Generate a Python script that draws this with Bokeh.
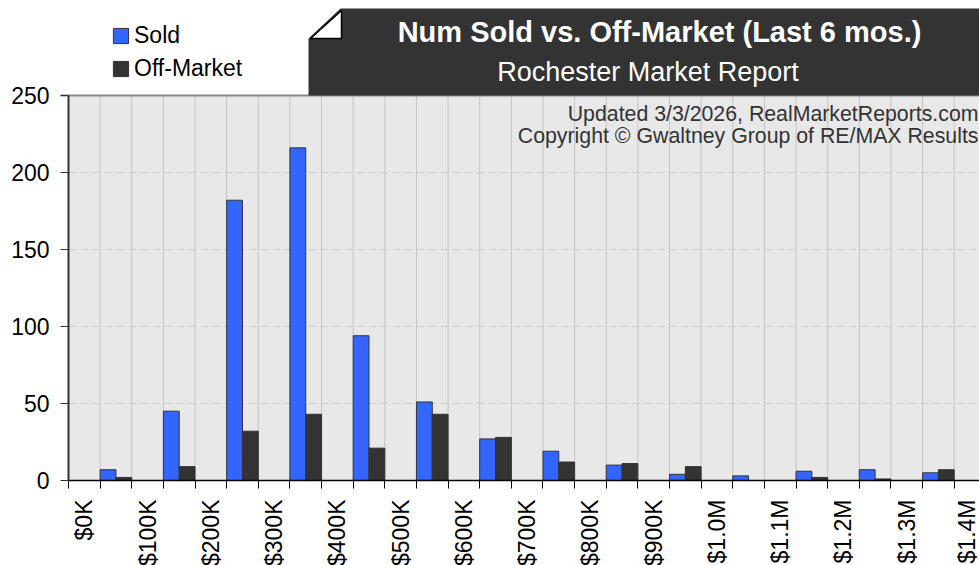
from math import pi
from bokeh.plotting import figure
from bokeh.core.properties import value
from bokeh.models import (Range1d, FixedTicker, CustomJSTickFormatter, Legend, LegendItem,
                          Label, ColumnDataSource)
from bokeh.embed import file_html
from bokeh.resources import INLINE

# ---- data ----
bin_labels = ["$0K", "", "$100K", "", "$200K", "", "$300K", "", "$400K", "", "$500K", "",
              "$600K", "", "$700K", "", "$800K", "", "$900K", "", "$1.0M", "", "$1.1M", "",
              "$1.2M", "", "$1.3M", "", "$1.4M"]
sold = [0, 7, 0, 45, 0, 182, 0, 216, 0, 94, 0, 51, 0, 27, 0, 19, 0, 10, 0, 4, 0, 3, 0, 6, 0, 7, 0, 5, 0]
off_market = [0, 2, 0, 9, 0, 32, 0, 43, 0, 21, 0, 43, 0, 28, 0, 12, 0, 11, 0, 9, 0, 0, 0, 2, 0, 1, 0, 7, 0]
y_ticks = [0, 50, 100, 150, 200, 250]
series_names = ["Sold", "Off-Market"]
title_text = "Num Sold vs. Off-Market (Last 6 mos.)"
subtitle_text = "Rochester Market Report"
note_lines = ["Updated 3/3/2026, RealMarketReports.com",
              "Copyright \u00a9 Gwaltney Group of RE/MAX Results"]

FONT = "Liberation Sans"
SOLD_COLOR = "#3366ff"
OFF_COLOR = "#333333"
BOX_COLOR = "#333333"

n = len(bin_labels)
W, H = 979, 565
# page layout (pixels): plot area from x=68 to the right edge, y=95 (250) to y=480 (0)
PL, PT, PB = 68, 95, 480
X_END = 28.8
Y_MAX = 250
sx = (W - PL) / X_END          # px per bin
sy = (PB - PT) / Y_MAX         # px per unit

def dx(px):
    return (px - PL) / sx
def dy(py):
    return (PB - py) / sy

# one frame covering the whole page; axes pinned with fixed_location
p = figure(width=W, height=H, output_backend="svg", toolbar_location=None,
           x_range=Range1d(dx(0), dx(W)), y_range=Range1d(dy(H), dy(0)),
           min_border=0, min_border_left=0, min_border_right=0, min_border_top=0, min_border_bottom=0,
           background_fill_color="white", border_fill_color="white", outline_line_color=None)
p.xgrid.visible = False
p.ygrid.visible = False

# grey plot area and its grid lines (kept inside the plot area)
p.quad(left=[0], right=[X_END], bottom=[0], top=[Y_MAX], fill_color="#e8e8e8", line_color=None, level="image")
bounds = list(range(1, n + 1))
p.segment(x0=bounds, y0=[0] * len(bounds), x1=bounds, y1=[Y_MAX] * len(bounds),
          line_color="#c4c4c4", line_width=1, level="underlay")
hlines = [t for t in y_ticks if 0 < t < Y_MAX]
p.segment(x0=[0] * len(hlines), y0=hlines, x1=[X_END] * len(hlines), y1=hlines,
          line_color="#cccccc", line_width=1, line_dash="8 4", level="underlay")

sold_src = ColumnDataSource(dict(x=[i + 0.25 for i in range(n) if sold[i] > 0],
                                 top=[v for v in sold if v > 0]))
off_src = ColumnDataSource(dict(x=[i + 0.75 for i in range(n) if off_market[i] > 0],
                                top=[v for v in off_market if v > 0]))
r_sold = p.vbar(x="x", top="top", width=0.5, bottom=0, source=sold_src,
                fill_color=SOLD_COLOR, line_color="#333333", line_width=1)
r_off = p.vbar(x="x", top="top", width=0.5, bottom=0, source=off_src,
               fill_color=OFF_COLOR, line_color=OFF_COLOR, line_width=1)

# top border of the plot area
p.segment(x0=[dx(PL - 8)], y0=[Y_MAX], x1=[X_END], y1=[Y_MAX], line_color="#888888", line_width=2)

# x axis
xa = p.xaxis[0]
xa.fixed_location = 0
xa.bounds = (0, X_END)
xa.ticker = FixedTicker(ticks=[i + 0.5 for i in range(n) if bin_labels[i]],
                        minor_ticks=list(range(n + 1)))
xa.formatter = CustomJSTickFormatter(args=dict(labels=bin_labels),
                                     code="return labels[Math.floor(tick)] || '';")
xa.major_label_orientation = pi / 2
xa.major_tick_line_color = None
xa.major_tick_out = 8
xa.major_tick_in = 0
xa.minor_tick_line_color = "black"
xa.minor_tick_out = 8
xa.minor_tick_in = 0
xa.axis_line_color = "black"
xa.axis_line_width = 1.5
xa.major_label_text_font = FONT
xa.major_label_text_font_size = "23px"
xa.major_label_text_color = "black"
xa.major_label_standoff = 11

# y axis
ya = p.yaxis[0]
ya.fixed_location = 0
ya.bounds = (0, Y_MAX)
ya.ticker = FixedTicker(ticks=y_ticks)
ya.major_tick_out = 8
ya.major_tick_in = 0
ya.major_tick_line_color = "#333333"
ya.minor_tick_line_color = None
ya.axis_line_color = "#333333"
ya.axis_line_width = 2
ya.major_label_text_font = FONT
ya.major_label_text_font_size = "23px"
ya.major_label_text_color = "black"
ya.major_label_standoff = 11

# title box with folded corner
p.patch([dx(308), dx(308), dx(340), dx(W + 10), dx(W + 10)], [dy(PT), dy(38), dy(8), dy(8), dy(PT)],
        fill_color=BOX_COLOR, line_color=None)
p.patch([dx(310), dx(341), dx(341)], [dy(38), dy(10), dy(38)],
        fill_color="white", line_color="black", line_width=1.5)
p.text(x=[dx(659)], y=[dy(31)], text=[title_text], text_align="center", text_baseline="middle",
       text_color="white", text_font=value(FONT), text_font_style="bold", text_font_size="29px")
p.text(x=[dx(647.5)], y=[dy(71)], text=[subtitle_text], text_align="center", text_baseline="middle",
       text_color="white", text_font=value(FONT), text_font_size="27px")

# notes inside the plot area
for i, line in enumerate(note_lines):
    p.add_layout(Label(x=dx(978), y=dy(113 + 22 * i), text=line, text_align="right", text_baseline="middle",
                       text_color="#333333", text_font=FONT, text_font_size="21.3px"))

# legend (top-left, outside the plot area)
legend = Legend(items=[LegendItem(label=series_names[0], renderers=[r_sold]),
                       LegendItem(label=series_names[1], renderers=[r_off])],
                location=(111, H - 82), orientation="vertical", padding=0, margin=0, spacing=6,
                glyph_width=19, glyph_height=19, label_standoff=4,
                label_text_font=FONT, label_text_font_size="23px", label_text_color="black",
                border_line_color=None, background_fill_alpha=0)
p.add_layout(legend, "center")

open("out.html", "w").write(file_html(p, INLINE))
